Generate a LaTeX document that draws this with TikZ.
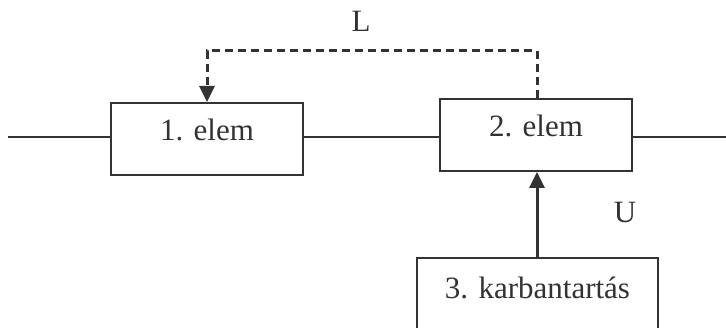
\documentclass[tikz,border=0pt]{standalone}
\usepackage{fontspec}
\setmainfont{Liberation Serif}
\usetikzlibrary{arrows.meta}
\definecolor{ink}{HTML}{333333}
\begin{document}
\begin{tikzpicture}[x=1pt,y=1pt,
  font=\fontsize{31}{36}\selectfont,
  every node/.style={text=ink},
  elembox/.style={draw=ink, line width=2pt, minimum width=192pt, minimum height=72pt,
    text height=0.7em, text depth=0.3em, inner sep=0pt},
  wire/.style={draw=ink, line width=2pt},
  feed/.style={draw=ink, line width=3pt, -{Triangle[length=16pt,width=15pt]}},
  feeddash/.style={feed, dash pattern=on 8pt off 5pt}]
\clip (0,0) rectangle (726,327);
\node[elembox] (e1) at (207,188) {1. elem};
\node[elembox] (e2) at (536,192) {2. elem};
\node[draw=ink, line width=2pt, minimum width=241pt, anchor=north,
      text height=32pt, text depth=60pt, inner xsep=0pt, inner ysep=8pt] (e3) at (537.5,70) {3. karbantartás};
\coordinate (lin) at (8,190);
\coordinate (rout) at (726,190);
\coordinate (c1) at (537,276);
\coordinate (c2) at (207,276);
\draw[wire] (lin) -- (e1.west |- lin);
\draw[wire] (e1.east |- lin) -- (e2.west |- lin);
\draw[wire] (e2.east |- lin) -- (rout);
\draw[feeddash] (e2.north -| c1) -- (c1) -- (c2) -- (e1.north -| c2);
\draw[feed] (e3.north -| c1) -- (e2.south -| c1);
\node (L) at (361,306) {L};
\node (U) at (625,114) {U};
\end{tikzpicture}
\end{document}
